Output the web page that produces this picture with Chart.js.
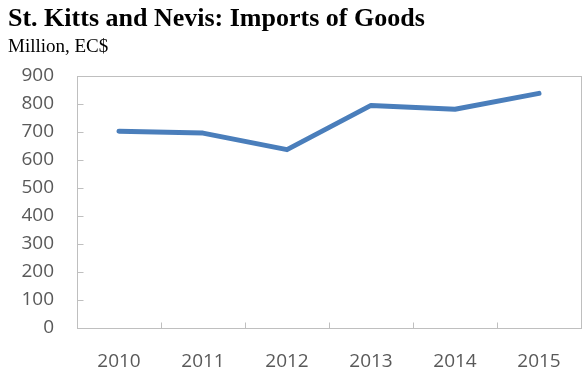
<!DOCTYPE html>
<html>
<head>
<meta charset="utf-8">
<script src="https://cdn.jsdelivr.net/npm/chart.js@4/dist/chart.umd.min.js"></script>
<style>
  html, body { margin: 0; padding: 0; background: #fff; }
  #wrap { position: relative; width: 586px; height: 373px; }
</style>
</head>
<body>
<div id="wrap"><canvas id="chart" width="586" height="373"></canvas></div>
<script>
const years = ['2010', '2011', '2012', '2013', '2014', '2015'];
const imports = [703, 696, 637, 795, 781, 838];
const yTicks = [0, 100, 200, 300, 400, 500, 600, 700, 800, 900];

const axisGray = '#bfbfbf';
const labelGray = '#595959';
const tickLen = 6;

// box around the plot area plus short tick marks pointing inward
const frame = {
    id: 'frame',
    beforeDatasetsDraw(chart) {
        const {ctx, chartArea: a, scales} = chart;
        const L = Math.round(a.left) + 0.5, B = Math.round(a.bottom) + 0.5;
        ctx.save();
        ctx.strokeStyle = axisGray;
        ctx.lineWidth = 1;
        ctx.strokeRect(L, Math.round(a.top) + 0.5,
            Math.round(a.right - a.left), Math.round(a.bottom - a.top));
        ctx.beginPath();
        yTicks.forEach(v => {
            const y = Math.round(scales.y.getPixelForValue(v)) + 0.5;
            ctx.moveTo(L, y);
            ctx.lineTo(L + tickLen, y);
        });
        const half = (scales.x.getPixelForValue(1) - scales.x.getPixelForValue(0)) / 2;
        years.forEach((_, i) => {
            const x = Math.round(scales.x.getPixelForValue(i) + half) + 0.5;
            ctx.moveTo(x, B);
            ctx.lineTo(x, B - tickLen);
        });
        ctx.stroke();
        ctx.restore();
    }
};

new Chart(document.getElementById('chart').getContext('2d'), {
    type: 'line',
    data: {
        labels: years,
        datasets: [{
            data: imports,
            borderColor: '#4a7ebb',
            borderWidth: 5,
            borderCapStyle: 'round',
            borderJoinStyle: 'round',
            pointRadius: 0,
            tension: 0,
            fill: false
        }]
    },
    plugins: [frame],
    options: {
        responsive: false,
        animation: false,
        layout: {padding: {left: 8, right: 5, top: 0, bottom: 0}},
        plugins: {
            legend: {display: false},
            tooltip: {enabled: false},
            title: {
                display: true,
                text: 'St. Kitts and Nevis: Imports of Goods',
                align: 'start',
                color: '#000',
                font: {family: '"Liberation Serif", "Times New Roman", serif', size: 26, weight: 'bold', lineHeight: 1.2},
                padding: {top: 4, bottom: 0}
            },
            subtitle: {
                display: true,
                text: 'Million, EC$',
                align: 'start',
                color: '#000',
                font: {family: '"Liberation Serif", "Times New Roman", serif', size: 19, lineHeight: 1.2},
                padding: {top: 0, bottom: 18}
            }
        },
        scales: {
            x: {
                offset: true,
                grid: {offset: true, display: false},
                border: {color: axisGray},
                ticks: {color: labelGray, padding: 14, font: {family: '"Open Sans", sans-serif', size: 19}},
                afterFit(scale) { scale.height = 45; }
            },
            y: {
                min: 0,
                max: 900,
                afterBuildTicks(scale) { scale.ticks = yTicks.map(v => ({value: v})); },
                grid: {display: false},
                border: {color: axisGray},
                ticks: {color: labelGray, padding: 15, font: {family: '"Open Sans", sans-serif', size: 19}},
                afterFit(scale) { scale.width = 69; }
            }
        }
    }
});
</script>
</body>
</html>
